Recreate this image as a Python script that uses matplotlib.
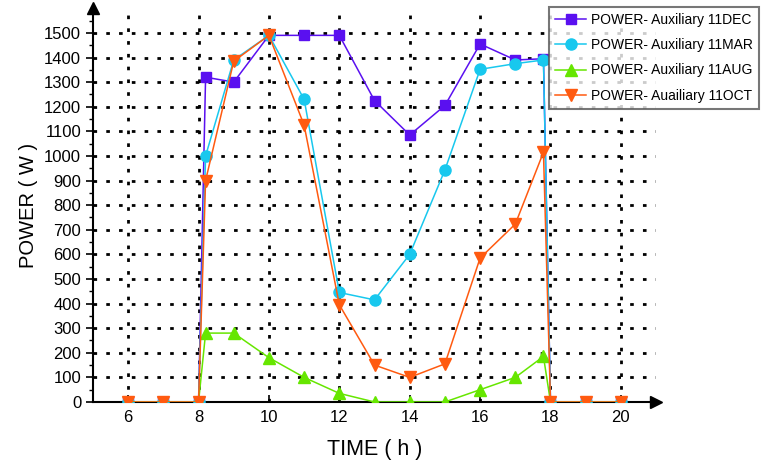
import matplotlib
matplotlib.use("Agg")
import matplotlib.pyplot as plt
import numpy as np

plt.rcParams['font.family'] = ['Liberation Sans', 'DejaVu Sans']

hours = [6, 7, 8, 8.2, 9, 10, 11, 12, 13, 14, 15, 16, 17, 17.8, 18, 19, 20]
dec = [0, 0, 0, 1320, 1300, 1490, 1490, 1490, 1225, 1085, 1205, 1455, 1390, 1395, 0, 0, 0]
mar = [0, 0, 0, 1000, 1390, 1490, 1230, 445, 415, 600, 943, 1352, 1375, 1390, 0, 0, 0]
aug = [0, 0, 0, 280, 280, 180, 100, 35, 0, 0, 0, 50, 100, 185, 0, 0, 0]
octo = [0, 0, 0, 900, 1385, 1490, 1125, 395, 150, 100, 155, 585, 723, 1015, 0, 0, 0]

labels = ["POWER- Auxiliary 11DEC", "POWER- Auxiliary 11MAR",
          "POWER- Auxiliary 11AUG", "POWER- Auailiary 11OCT"]
xticks = [6, 8, 10, 12, 14, 16, 18, 20]
yticks = list(range(0, 1501, 100))

fig = plt.figure(figsize=(7.62, 4.61), dpi=100)
ax = fig.add_axes([0.122, 0.128, 0.739, 0.854])

ax.set_xlim(5, 21)
ax.set_ylim(0, 1600)

# grid
for x in xticks:
    ax.plot([x, x], [0, 1600], color='black', lw=2.0, dashes=(1.3, 3.3), zorder=1)
for y in yticks[1:]:
    ax.plot([5, 21], [y, y], color='black', lw=2.0, dashes=(1.3, 3.3), zorder=1)

styles = [
    (dec, '#5a10f0', 's', 7),
    (mar, '#18c8ee', 'o', 8),
    (aug, '#66e600', '^', 8.5),
    (octo, '#ff5a10', 'v', 8.5),
]
for (vals, c, m, ms), lab in zip(styles, labels):
    ax.plot(hours, vals, color=c, marker=m, markersize=ms, lw=1.1,
            label=lab, zorder=3)

ax.spines['top'].set_visible(False)
ax.spines['right'].set_visible(False)
ax.spines['left'].set_linewidth(1.5)
ax.spines['bottom'].set_linewidth(1.5)

ax.set_xticks(xticks)
ax.set_yticks(yticks)
ax.set_yticks(np.arange(50, 1600, 100), minor=True)
ax.tick_params(axis='x', direction='in', length=5, width=1.2, labelsize=12, pad=6)
ax.tick_params(axis='y', which='major', direction='out', length=5, width=1.2, labelsize=12)
ax.tick_params(axis='y', which='minor', direction='out', length=3, width=1.0)

# arrows
ax.plot(1, 0, '>k', markersize=8, transform=ax.transAxes, clip_on=False)
ax.plot(0, 1, '^k', markersize=8, transform=ax.transAxes, clip_on=False)

ax.set_xlabel('TIME ( h )', fontsize=15.5, labelpad=10)
ax.set_ylabel('POWER ( W )', fontsize=14.5, labelpad=4)

leg = fig.legend(loc='upper left', bbox_to_anchor=(549/762, 1 - 7/461),
                 fontsize=10, frameon=True, fancybox=False, borderaxespad=0,
                 labelspacing=0.8, handlelength=2.2, handletextpad=0.4,
                 borderpad=0.45)
leg.get_frame().set_edgecolor('#555555')
leg.get_frame().set_linewidth(1.5)

fig.savefig('out.png', dpi=100)
